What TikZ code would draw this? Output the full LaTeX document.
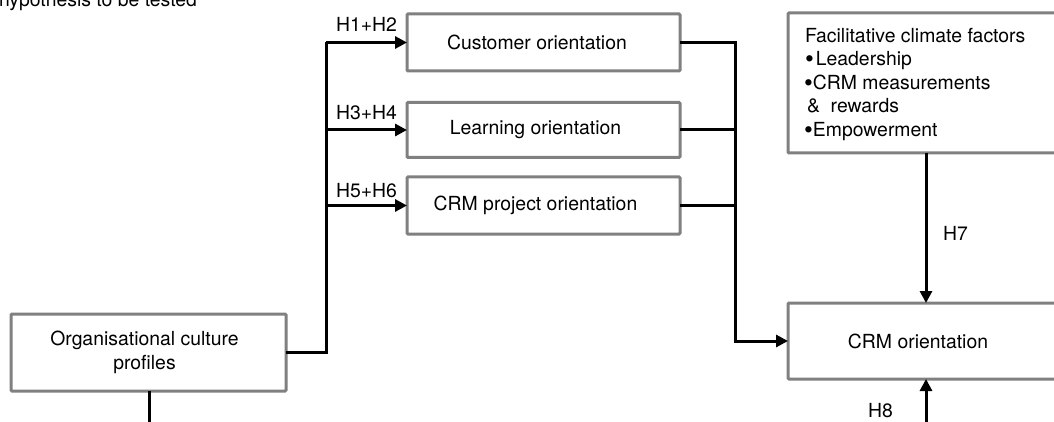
\documentclass[tikz,border=0pt]{standalone}
\usepackage{fontspec}
\setmainfont{TeX Gyre Heros}
\usetikzlibrary{arrows.meta}
\definecolor{boxgrey}{RGB}{128,128,128}
\newcommand{\bigbul}{\raisebox{-1.8pt}{\scalebox{1.3}{•}}}
\begin{document}
\begin{tikzpicture}[x=1pt,y=-1pt,
  every node/.style={font=\fontsize{19.4}{23.5}\selectfont},
  box/.style={draw=boxgrey, line width=3pt, fill=white, inner sep=0pt, outer sep=0pt, rounded corners=1pt, align=center},
  conn/.style={line width=3pt, draw=black},
  arr/.style={conn, -{Triangle[length=12pt,width=12pt]}},
  lbl/.style={inner sep=0pt, outer sep=0pt, anchor=base west}]
\useasboundingbox (0,0) rectangle (1054,422);

% boxes
\node[box, minimum width=273pt, minimum height=57pt] (cust) at (543.5,42.5) {\hspace*{-13pt}Customer orientation};
\node[box, minimum width=273pt, minimum height=55pt] (learn) at (543.5,130) {\hspace*{-16pt}Learning orientation};
\node[box, minimum width=273pt, minimum height=57pt] (proj) at (543.5,205.5) {\hspace*{-16pt}CRM project orientation};
\node[box, minimum width=275pt, minimum height=77pt] (org) at (148.5,352.5) {\hspace*{-8pt}Organisational culture\\\hspace*{-8pt}profiles};
\node[box, minimum width=270pt, minimum height=140pt] (fac) at (923,83) {};
\node[box, minimum width=270pt, minimum height=76pt] (crm) at (923,341) {\hspace*{-10pt}CRM orientation};

% facilitative climate factors text
\node[lbl] (f1) at (805,43) {Facilitative climate factors};
\node[lbl] (f2) at (805,66) {\bigbul\hspace{2pt}Leadership};
\node[lbl] (f3) at (804,90) {\bigbul CRM measurements};
\node[lbl] (f4) at (807,113) {\&\ \ rewards};
\node[lbl] (f5) at (804,137) {\bigbul Empowerment};

% helper coordinates
\coordinate (sp) at (326,0);
\coordinate (rs) at (735,0);
\coordinate (hx) at (926,0);
\coordinate (h8s) at (926,426);
\coordinate (orgdown) at (149,426);

% left spine
\draw[conn] (org.east) -| (cust.west -| sp);
\draw[arr] (cust.west -| sp) -- (cust.west);
\draw[arr] (learn.west -| sp) -- (learn.west);
\draw[arr] (proj.west -| sp) -- (proj.west);

% right spine
\draw[arr] (cust.east) -| (rs |- crm.west) -- (crm.west);
\draw[conn] (learn.east) -- (learn.east -| rs);
\draw[conn] (proj.east) -- (proj.east -| rs);

% H7 and H8
\draw[arr] (fac.south -| hx) -- (crm.north -| hx);
\draw[arr] (h8s) -- (crm.south -| h8s);

% downward from organisational culture
\draw[conn] (org.south -| orgdown) -- (orgdown);

% labels
\node[lbl] (l12) at (336,32) {H1+H2};
\node[lbl] (l34) at (336,120) {H3+H4};
\node[lbl] (l56) at (336,197) {H5+H6};
\node[lbl] (l7) at (943,240) {H7};
\node[lbl] (l8) at (868,417) {H8};
\node[lbl] (hyp) at (-1,7) {hypothesis to be tested};
\end{tikzpicture}
\end{document}
